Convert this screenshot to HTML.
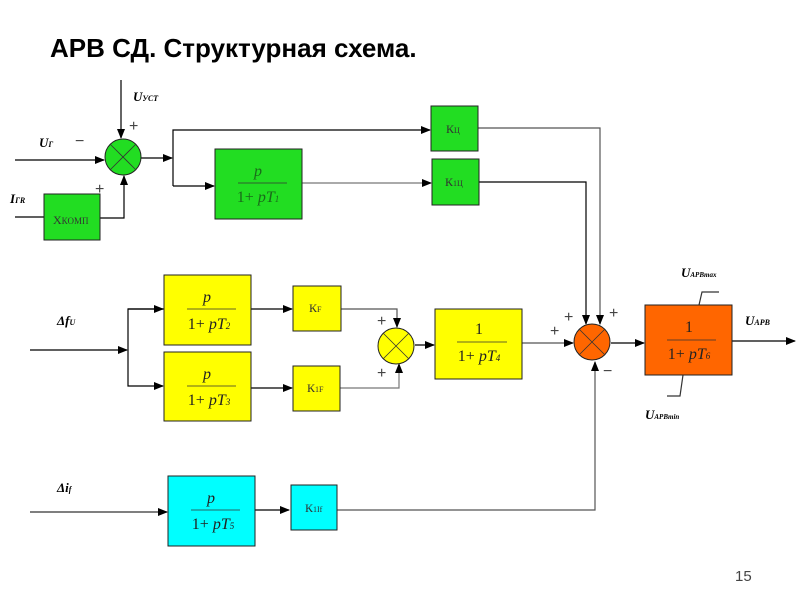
<!DOCTYPE html>
<html><head><meta charset="utf-8"><style>
body{margin:0;background:#fff}
svg{display:block}
.t{font-family:"Liberation Serif",serif}
.i{font-style:italic}
</style></head><body>
<svg width="800" height="600" viewBox="0 0 800 600" xmlns="http://www.w3.org/2000/svg">
<defs>
<marker id="a" markerWidth="10" markerHeight="8" refX="9" refY="4" orient="auto" markerUnits="userSpaceOnUse"><path d="M0,0 L10,4 L0,8 z" fill="#000"/></marker>
</defs>
<text x="50" y="57" font-family="Liberation Sans, sans-serif" font-weight="bold" font-size="26">АРВ СД. Структурная схема.</text>

<g stroke="#000" stroke-width="1.2" fill="none">
<line x1="121" y1="80" x2="121" y2="138" marker-end="url(#a)"/>
<line x1="15" y1="160" x2="104" y2="160" marker-end="url(#a)"/>
<line x1="15" y1="217" x2="44" y2="217"/>
<polyline points="100,218 124,218 124,176" marker-end="url(#a)"/>
<line x1="141" y1="158" x2="172" y2="158" marker-end="url(#a)"/>
<polyline points="173,186 173,130 430,130" marker-end="url(#a)"/>
<line x1="173" y1="186" x2="214" y2="186" marker-end="url(#a)"/>
<line x1="302" y1="183" x2="431" y2="183" stroke="#777" marker-end="url(#a)"/>
<polyline points="478,128 600,128 600,324" stroke="#555" marker-end="url(#a)"/>
<polyline points="479,182 586,182 586,324" marker-end="url(#a)"/>
<line x1="30" y1="350" x2="127" y2="350" marker-end="url(#a)"/>
<polyline points="164,309 128,309 128,386 163,386" marker-end="url(#a)"/>
<line x1="128" y1="309" x2="163" y2="309" marker-end="url(#a)"/>
<line x1="251" y1="309" x2="292" y2="309" marker-end="url(#a)"/>
<line x1="251" y1="388" x2="292" y2="388" marker-end="url(#a)"/>
<polyline points="341,309 397,309 397,327" stroke="#555" marker-end="url(#a)"/>
<polyline points="340,388 399,388 399,364" stroke="#777" marker-end="url(#a)"/>
<line x1="415" y1="345" x2="434" y2="345" marker-end="url(#a)"/>
<line x1="522" y1="343" x2="573" y2="343" stroke="#555" marker-end="url(#a)"/>
<line x1="611" y1="343" x2="644" y2="343" marker-end="url(#a)"/>
<line x1="732" y1="341" x2="795" y2="341" marker-end="url(#a)"/>
<line x1="30" y1="512" x2="167" y2="512" stroke="#333" marker-end="url(#a)"/>
<line x1="255" y1="510" x2="289" y2="510" marker-end="url(#a)"/>
<polyline points="337,510 595,510 595,362" stroke="#555" marker-end="url(#a)"/>
<polyline points="699,305 702,292 719,292" stroke="#333"/>
<polyline points="683,375 680,396 667,396" stroke="#333"/>
</g>

<g stroke="#222" stroke-width="1">
<circle cx="123" cy="157" r="18" fill="#22dd22"/>
<rect x="44" y="194" width="56" height="46" fill="#22dd22"/>
<rect x="215" y="149" width="87" height="70" fill="#22dd22"/>
<rect x="431" y="106" width="47" height="45" fill="#22dd22"/>
<rect x="432" y="159" width="47" height="46" fill="#22dd22"/>
<rect x="164" y="275" width="87" height="70" fill="#ffff00"/>
<rect x="164" y="352" width="87" height="69" fill="#ffff00"/>
<rect x="293" y="286" width="48" height="45" fill="#ffff00"/>
<rect x="293" y="366" width="47" height="45" fill="#ffff00"/>
<circle cx="396" cy="346" r="18" fill="#ffff00"/>
<rect x="435" y="309" width="87" height="70" fill="#ffff00"/>
<circle cx="592" cy="342" r="18" fill="#ff6600"/>
<rect x="645" y="305" width="87" height="70" fill="#ff6600"/>
<rect x="168" y="476" width="87" height="70" fill="#00ffff"/>
<rect x="291" y="485" width="46" height="45" fill="#00ffff"/>
</g>
<g stroke="#333" stroke-width="0.8">
<line x1="110" y1="144" x2="136" y2="170"/><line x1="136" y1="144" x2="110" y2="170"/>
<line x1="383" y1="333" x2="409" y2="359"/><line x1="409" y1="333" x2="383" y2="359"/>
<line x1="579" y1="329" x2="605" y2="355"/><line x1="605" y1="329" x2="579" y2="355"/>
<line x1="238" y1="183" x2="287" y2="183"/>
<line x1="187" y1="309" x2="236" y2="309"/>
<line x1="187" y1="386" x2="236" y2="386"/>
<line x1="191" y1="510" x2="240" y2="510"/>
<line x1="457" y1="342" x2="507" y2="342"/>
<line x1="667" y1="340" x2="716" y2="340"/>
</g>

<g class="t" font-size="16" fill="#222">
<text x="258" y="176" text-anchor="middle" class="i" fill="#1a6a1a">p</text>
<text x="258" y="202" text-anchor="middle" fill="#1a6a1a">1+ <tspan class="i">pT</tspan><tspan font-size="9" class="i">1</tspan></text>
<text x="207" y="302" text-anchor="middle" class="i">p</text>
<text x="209" y="329" text-anchor="middle">1+ <tspan class="i">pT</tspan><tspan font-size="9" class="i">2</tspan></text>
<text x="207" y="379" text-anchor="middle" class="i">p</text>
<text x="209" y="405" text-anchor="middle">1+ <tspan class="i">pT</tspan><tspan font-size="9" class="i">3</tspan></text>
<text x="211" y="503" text-anchor="middle" class="i">p</text>
<text x="213" y="529" text-anchor="middle">1+ <tspan class="i">pT</tspan><tspan font-size="9" class="i">5</tspan></text>
<text x="479" y="334" text-anchor="middle">1</text>
<text x="479" y="361" text-anchor="middle">1+ <tspan class="i">pT</tspan><tspan font-size="9" class="i">4</tspan></text>
<text x="689" y="332" text-anchor="middle">1</text>
<text x="689" y="359" text-anchor="middle">1+ <tspan class="i">pT</tspan><tspan font-size="9" class="i">6</tspan></text>
</g>
<g class="t" font-size="12" fill="#333">
<text x="53" y="224">X<tspan font-size="9">КОМП</tspan></text>
<text x="446" y="133">К<tspan font-size="8">Ц</tspan></text>
<text x="445" y="186">К<tspan font-size="8">1Ц</tspan></text>
<text x="309" y="312">К<tspan font-size="8">F</tspan></text>
<text x="307" y="392">К<tspan font-size="8">1F</tspan></text>
<text x="305" y="512">К<tspan font-size="8">1If</tspan></text>
</g>
<g class="t i" font-weight="bold" font-size="13" fill="#000">
<text x="133" y="101">U<tspan font-size="8">УСТ</tspan></text>
<text x="39" y="147">U<tspan font-size="8">Г</tspan></text>
<text x="10" y="203">I<tspan font-size="8">ГR</tspan></text>
<text x="57" y="325">Δf<tspan font-size="8">U</tspan></text>
<text x="57" y="492">Δi<tspan font-size="8">f</tspan></text>
<text x="681" y="277">U<tspan font-size="7">APBmax</tspan></text>
<text x="645" y="419">U<tspan font-size="7">APBmin</tspan></text>
<text x="745" y="325">U<tspan font-size="8">APB</tspan></text>
</g>
<g font-family="Liberation Sans, sans-serif" font-size="16" fill="#444">
<text x="129" y="131">+</text>
<text x="75" y="146">−</text>
<text x="95" y="194">+</text>
<text x="377" y="326">+</text>
<text x="377" y="378">+</text>
<text x="564" y="322">+</text>
<text x="550" y="336">+</text>
<text x="609" y="318">+</text>
<text x="603" y="376">−</text>
</g>
<text x="735" y="581" font-family="Liberation Sans, sans-serif" font-size="15" fill="#444">15</text>
</svg>
</body></html>
